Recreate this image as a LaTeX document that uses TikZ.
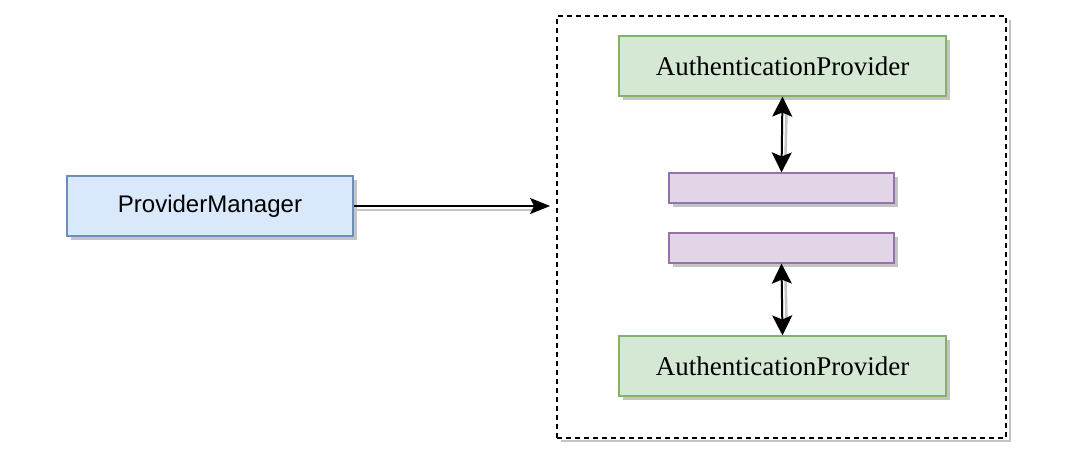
\documentclass[tikz,border=0pt]{standalone}
\usepackage{fontspec}
\setmainfont{Liberation Serif}
\newfontfamily\arialfont{Liberation Sans}
\usetikzlibrary{shadows,arrows.meta}
\definecolor{bluefill}{HTML}{DAE8FC}
\definecolor{blueline}{HTML}{6C8EBF}
\definecolor{greenfill}{HTML}{D5E8D4}
\definecolor{greenline}{HTML}{82B366}
\definecolor{purplefill}{HTML}{E1D5E7}
\definecolor{purpleline}{HTML}{9673A6}
\definecolor{shadowgray}{HTML}{C4C4C4}
\tikzset{
  x=1pt, y=-1pt,
  shad/.style={drop shadow={shadow xshift=4pt, shadow yshift=-4pt, fill=shadowgray, opacity=1}},
  pmbox/.style={shad, draw=blueline, fill=bluefill, line width=1.2pt, minimum width=286pt, minimum height=60pt, inner sep=0pt, font=\arialfont\fontsize{24}{28}\selectfont},
  apbox/.style={shad, draw=greenline, fill=greenfill, line width=1.2pt, minimum width=327pt, minimum height=60pt, inner sep=0pt, font=\fontsize{27}{32}\selectfont},
  filterbox/.style={shad, draw=purpleline, fill=purplefill, line width=1.2pt, minimum width=225pt, minimum height=30pt, inner sep=0pt},
  container/.style={draw=black, dashed, dash pattern=on 5pt off 4pt, line width=1.8pt, minimum width=449pt, minimum height=422pt, inner sep=0pt},
  conn/.style={line width=2pt, -{Stealth[length=20pt,width=16pt,inset=4pt]}},
  biconn/.style={line width=2pt, {Stealth[length=20pt,width=20pt,inset=4pt]}-{Stealth[length=20pt,width=20pt,inset=4pt]}},
  shadline/.style={shadowgray, line width=2.5pt},
}
\begin{document}
\begin{tikzpicture}
\useasboundingbox (0,0) rectangle (1077,456);
% container shadow
\draw[shadowgray, line width=2.5pt] (1010,20) -- (1010,441) -- (561,441);
\node[container, fill=white] (cont) at (781.5,227) {};
\node[pmbox] (pm) at (210,206) {ProviderManager};
\node[apbox] (ap1) at (782.5,66) {AuthenticationProvider};
\node[filterbox] (f1) at (781.5,188) {};
\node[filterbox] (f2) at (781.5,248) {};
\node[apbox] (ap2) at (782.5,366) {AuthenticationProvider};
% connector shadows
\draw[shadline] ([yshift=-4pt]pm.east) -- ++(180,0);
\draw[shadline] ([xshift=4pt,yshift=-16pt]ap1.south) -- ([xshift=4pt,yshift=16pt]f1.north);
\draw[shadline] ([xshift=4pt,yshift=-16pt]f2.south) -- ([xshift=4pt,yshift=16pt]ap2.north);
% connectors
\draw[conn] (pm.east) -- ([xshift=-6pt]pm.east -| cont.west) coordinate (pmend);
\draw[biconn] (ap1.south) -- (f1.north);
\draw[biconn] (f2.south) -- (ap2.north);
\end{tikzpicture}
\end{document}
